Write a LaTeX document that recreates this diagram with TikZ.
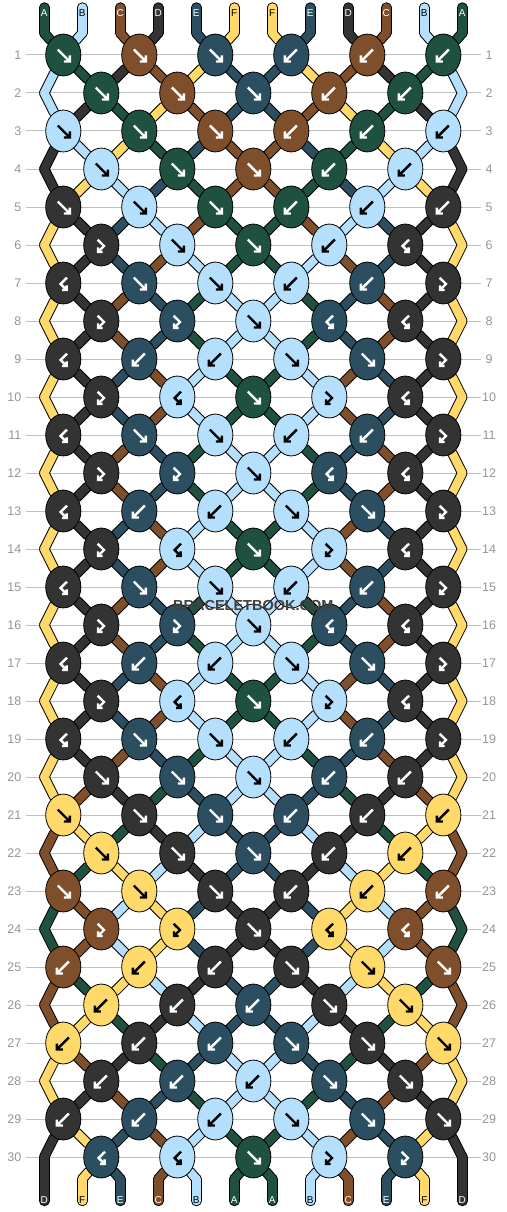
\documentclass[tikz,border=0pt]{standalone}
\usepackage{fontspec}
\setmainfont{Liberation Sans}
\usetikzlibrary{shapes.geometric, backgrounds}
\definecolor{cA}{RGB}{31,81,64}
\definecolor{cB}{RGB}{180,223,253}
\definecolor{cC}{RGB}{127,79,43}
\definecolor{cD}{RGB}{51,51,51}
\definecolor{cE}{RGB}{43,79,96}
\definecolor{cF}{RGB}{255,217,106}
% ink on top of each colour
\colorlet{iA}{white}
\colorlet{iB}{black}
\colorlet{iC}{white}
\colorlet{iD}{white}
\colorlet{iE}{white}
\colorlet{iF}{black}
\definecolor{rowgray}{RGB}{192,192,192}
\definecolor{numgray}{RGB}{150,150,150}

\tikzset{
  knot/.style={ellipse, draw=black, line width=0.8pt, fill=c#1, minimum width=35.2pt, minimum height=41.9pt, inner sep=0pt},
  strout/.style={draw=black, line width=10.4pt, line cap=round, line join=round},
  strcol/.style={draw=c#1, line width=8.4pt, line cap=round, line join=round},
  glyph/.style={line width=2.4pt},
  tag/.style={text=i#1, inner sep=0pt, font=\fontsize{10}{11}\selectfont},
  rownum/.style={text=numgray, inner sep=0pt, font=\fontsize{12.5}{13}\selectfont},
  rowline/.style={draw=rowgray, line width=1pt},
  wmark/.style={text=black!75, inner sep=0pt, font=\bfseries\fontsize{14.5}{15}\selectfont}
}

% the four knot marks
\newcommand\glf{\draw[glyph] (-5.5,-5.5) -- (6,6) (0.5,6.5) -- (6.5,6.5) -- (6.5,0.5);}
\newcommand\glb{\draw[glyph] (5.5,-5.5) -- (-6,6) (-0.5,6.5) -- (-6.5,6.5) -- (-6.5,0.5);}
\newcommand\glfb{\draw[glyph] (-3.7,-5.3) -- (2.7,1) -- (-3.3,7) (1.3,7) -- (-3.3,7) -- (-3.3,2.3);}
\newcommand\glbf{\draw[glyph] (3.7,-5.3) -- (-2.7,1) -- (3.3,7) (-1.3,7) -- (3.3,7) -- (3.3,2.3);}

% name of the point where string #3 sits in row #2
\newcommand\strpos[3]{%
  \ifnum#2=-1\relax \edef#1{s-#3}%
  \else\ifnum#2=0\relax \edef#1{t-#3}%
  \else\ifnum#2=31\relax \edef#1{u-#3}%
  \else\ifnum#2=32\relax \edef#1{v-#3}%
  \else\ifodd#2\relax
    \pgfmathtruncatemacro\tmpc{2*int((#3+1)/2)-1}\edef#1{k#2-\tmpc}%
  \else\ifnum#3=1\relax \edef#1{e#2-1}%
  \else\ifnum#3=12\relax \edef#1{e#2-12}%
  \else
    \pgfmathtruncatemacro\tmpc{2*int(#3/2)}\edef#1{k#2-\tmpc}%
  \fi\fi\fi\fi\fi\fi\fi}

% strings, row by row (order after each row)
\newcommand\strands[1]{%
\foreach \row/\sl in {-1/{A,B,C,D,E,F,F,E,D,C,B,A}, 0/{A,B,C,D,E,F,F,E,D,C,B,A},
  1/{B,A,D,C,F,E,E,F,C,D,A,B}, 2/{B,D,A,F,C,E,E,C,F,A,D,B},
  3/{D,B,F,A,E,C,C,E,A,F,B,D}, 4/{D,F,B,E,A,C,C,A,E,B,F,D},
  5/{F,D,E,B,C,A,A,C,B,E,D,F}, 6/{F,D,E,C,B,A,A,B,C,E,D,F},
  7/{F,D,C,E,A,B,B,A,E,C,D,F}, 8/{F,D,C,E,A,B,B,A,E,C,D,F},
  9/{F,D,E,C,B,A,A,B,C,E,D,F}, 10/{F,D,E,C,B,A,A,B,C,E,D,F},
  11/{F,D,C,E,A,B,B,A,E,C,D,F}, 12/{F,D,C,E,A,B,B,A,E,C,D,F},
  13/{F,D,E,C,B,A,A,B,C,E,D,F}, 14/{F,D,E,C,B,A,A,B,C,E,D,F},
  15/{F,D,C,E,A,B,B,A,E,C,D,F}, 16/{F,D,C,E,A,B,B,A,E,C,D,F},
  17/{F,D,E,C,B,A,A,B,C,E,D,F}, 18/{F,D,E,C,B,A,A,B,C,E,D,F},
  19/{F,D,C,E,A,B,B,A,E,C,D,F}, 20/{F,C,D,A,E,B,B,E,A,D,C,F},
  21/{C,F,A,D,B,E,E,B,D,A,F,C}, 22/{C,A,F,B,D,E,E,D,B,F,A,C},
  23/{A,C,B,F,E,D,D,E,F,B,C,A}, 24/{A,C,B,F,E,D,D,E,F,B,C,A},
  25/{C,A,F,B,D,E,E,D,B,F,A,C}, 26/{C,F,A,D,B,E,E,B,D,A,F,C},
  27/{F,C,D,A,E,B,B,E,A,D,C,F}, 28/{F,D,C,E,A,B,B,A,E,C,D,F},
  29/{D,F,E,C,B,A,A,B,C,E,F,D}, 30/{D,F,E,C,B,A,A,B,C,E,F,D},
  31/{D,F,E,C,B,A,A,B,C,E,F,D}}{
  \pgfmathtruncatemacro\nxt{\row+1}
  \foreach \sc [count=\p] in \sl {
    \strpos\pa\row\p
    \strpos\pb\nxt\p
    \draw[#1=\sc] (\pa) -- (\pb);
  }
}}

\begin{document}
\begin{tikzpicture}[x=1pt, y=-1pt]
\useasboundingbox (0,0) rectangle (506,1212);
% ends and edge turns of the strings
\foreach \p in {1,...,12} {
  \coordinate (s-\p) at ({44.3+38*(\p-1)}, 7.5);
  \coordinate (t-\p) at ({44.3+38*(\p-1)}, 33);
  \coordinate (u-\p) at ({44.3+38*(\p-1)}, 1179);
  \coordinate (v-\p) at ({44.3+38*(\p-1)}, 1201);
}
\foreach \row in {2,4,...,30} {
  \coordinate (e\row-1) at (44.3, {55+38*(\row-1)});
  \coordinate (e\row-12) at (462.3, {55+38*(\row-1)});
}
% knots: type/colour
\foreach \row/\kl in {1/{f/A,f/C,f/E,b/E,b/C,b/A}, 2/{f/A,f/C,f/E,b/C,b/A},
  3/{f/B,f/A,f/C,b/C,b/A,b/B}, 4/{f/B,f/A,f/C,b/A,b/B},
  5/{f/D,f/B,f/A,b/A,b/B,b/D}, 6/{fb/D,f/B,f/A,b/B,bf/D},
  7/{bf/D,f/E,f/B,b/B,b/E,fb/D}, 8/{fb/D,fb/E,f/B,bf/E,bf/D},
  9/{bf/D,b/E,b/B,f/B,f/E,fb/D}, 10/{fb/D,bf/B,f/A,fb/B,bf/D},
  11/{bf/D,f/E,f/B,b/B,b/E,fb/D}, 12/{fb/D,fb/E,f/B,bf/E,bf/D},
  13/{bf/D,b/E,b/B,f/B,f/E,fb/D}, 14/{fb/D,bf/B,f/A,fb/B,bf/D},
  15/{bf/D,f/E,f/B,b/B,b/E,fb/D}, 16/{fb/D,fb/E,f/B,bf/E,bf/D},
  17/{bf/D,b/E,b/B,f/B,f/E,fb/D}, 18/{fb/D,bf/B,f/A,fb/B,bf/D},
  19/{bf/D,f/E,f/B,b/B,b/E,fb/D}, 20/{f/D,f/E,f/B,b/E,b/D},
  21/{f/F,f/D,f/E,b/E,b/D,b/F}, 22/{f/F,f/D,f/E,b/D,b/F},
  23/{f/C,f/F,f/D,b/D,b/F,b/C}, 24/{fb/C,fb/F,f/D,bf/F,bf/C},
  25/{b/C,b/F,b/D,f/D,f/F,f/C}, 26/{b/F,b/D,b/E,f/D,f/F},
  27/{b/F,b/D,b/E,f/E,f/D,f/F}, 28/{b/D,b/E,b/B,f/E,f/D},
  29/{b/D,b/E,b/B,f/B,f/E,f/D}, 30/{bf/E,bf/B,f/A,fb/B,fb/E}} {
  \foreach \kt/\sc [count=\j] in \kl {
    \ifodd\row\relax \pgfmathtruncatemacro\col{2*\j-1}\else \pgfmathtruncatemacro\col{2*\j}\fi
    \node[knot=\sc] (k\row-\col) at ({63.3+38*(\col-1)}, {55+38*(\row-1)}) {};
    \begin{scope}[shift={(k\row-\col)}, color=i\sc]
      \csname gl\kt\endcsname
    \end{scope}
  }
}
% row numbers
\foreach \row in {1,...,30} {
  \node[rownum, anchor=east] (nl\row) at (21.5, {55+38*(\row-1)}) {\row};
  \node[rownum] (nr\row) at (489, {55+38*(\row-1)}) {\row};
}
% string letters
\foreach \sc [count=\p] in {A,B,C,D,E,F,F,E,D,C,B,A}
  \node[tag=\sc] (top-\p) at ({44.3+38*(\p-1)}, 12.7) {\sc};
\foreach \sc [count=\p] in {D,F,E,C,B,A,A,B,C,E,F,D}
  \node[tag=\sc] (bot-\p) at ({44.3+38*(\p-1)}, 1200) {\sc};
\node[wmark] (wm) at (253.3, 606) {BRACELETBOOK.COM};

\begin{pgfonlayer}{background}
  \fill[white] (0,0) rectangle (506,1212);
  \foreach \row in {1,...,30}
    \draw[rowline] (26, {55+38*(\row-1)}) -- (481, {55+38*(\row-1)});
  \strands{strout}
  \strands{strcol}
\end{pgfonlayer}
\end{tikzpicture}
\end{document}
